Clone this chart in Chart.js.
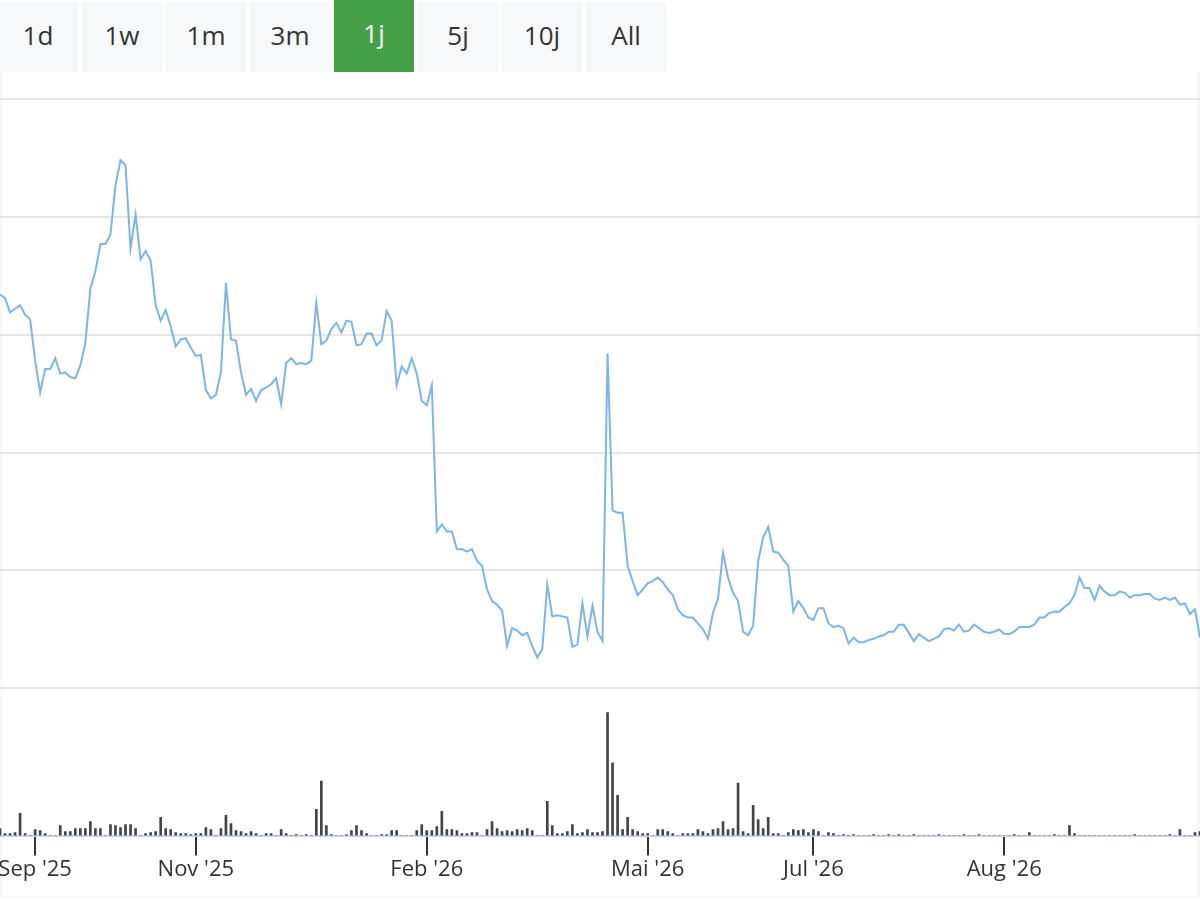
<!DOCTYPE html>
<html>
<head>
<meta charset="utf-8">
<title>Kursverlauf 1j</title>
<script src="https://cdn.jsdelivr.net/npm/chart.js@4"></script>
<style>
  html, body { margin: 0; padding: 0; background: #fff; width: 1200px; height: 900px; overflow: hidden; font-family: 'Open Sans', sans-serif; }
  .ranges { position: absolute; left: -2px; top: 0; height: 72px; display: flex; gap: 4px; align-items: flex-end; }
  .ranges button { width: 80px; height: 70px; border: 0; margin: 0; padding: 0 0 5px 0; background: #f7f8fa; color: #333; font: 26px 'Open Sans', sans-serif; }
  .ranges button.active { height: 72px; padding-bottom: 7px; background: #43a047; color: #fff; }
  .box { position: absolute; left: 0; top: 72px; width: 1195px; height: 824px; border-left: 2px solid #f7f8fa; border-right: 3px solid #f7f8fa; border-bottom: 2px solid #f7f8fa; }
  .chart { position: absolute; left: 0; top: 72px; width: 1200px; height: 828px; }
</style>
</head>
<body>
<div class="ranges">
  <button>1d</button><button>1w</button><button>1m</button><button>3m</button><button class="active">1j</button><button>5j</button><button>10j</button><button>All</button>
</div>
<div class="box"></div>
<div class="chart"><canvas id="priceChart"></canvas></div>
<script>
// Schlusskurse, ein Wert pro Handelstag
var prices = [
  43.4, 43.1, 41.9, 42.2, 42.5, 41.7, 41.3, 37.8, 35.1, 37.1, 37.1, 38.0, 36.7, 36.8, 36.4, 36.3, 37.4, 39.3, 43.9, 45.4,
  47.7, 47.7, 48.5, 52.7, 54.8, 54.4, 47.3, 50.2, 46.4, 47.1, 46.3, 42.5, 41.2, 42.1, 40.7, 39.0, 39.6, 39.7, 38.9, 38.2,
  38.3, 35.3, 34.6, 34.9, 36.8, 44.4, 39.6, 39.5, 36.8, 34.9, 35.4, 34.4, 35.3, 35.5, 35.8, 36.3, 34.1, 37.6, 38.0, 37.5,
  37.6, 37.5, 37.8, 42.7, 39.2, 39.5, 40.5, 41.0, 40.2, 41.2, 41.1, 39.1, 39.2, 40.1, 40.1, 39.1, 39.5, 42.0, 41.2, 35.7,
  37.3, 36.7, 38.0, 36.7, 34.4, 34.0, 35.7, 23.3, 23.9, 23.3, 23.3, 21.8, 21.8, 21.6, 21.8, 20.8, 20.4, 18.4, 17.4, 17.1,
  16.6, 13.6, 15.1, 14.9, 14.5, 14.7, 13.6, 12.6, 13.3, 18.8, 16.1, 16.2, 16.1, 16.0, 13.5, 13.7, 17.2, 14.4, 17.0, 14.8,
  14.0, 38.4, 25.1, 24.9, 24.9, 20.4, 19.1, 17.9, 18.4, 18.9, 19.1, 19.4, 19.0, 18.4, 17.9, 16.7, 16.2, 16.0, 16.0, 15.5,
  15.0, 14.2, 16.4, 17.6, 21.5, 19.4, 18.1, 17.4, 14.8, 14.5, 15.3, 20.8, 22.8, 23.7, 21.6, 21.5, 20.9, 20.4, 16.5, 17.4,
  16.8, 16.0, 15.8, 16.8, 16.8, 15.5, 15.2, 15.3, 15.1, 13.8, 14.3, 13.9, 13.9, 14.1, 14.2, 14.4, 14.5, 14.8, 14.8, 15.4,
  15.4, 14.7, 14.0, 14.6, 14.3, 14.0, 14.2, 14.4, 15.0, 15.1, 14.9, 15.4, 14.8, 14.9, 15.4, 15.1, 14.8, 14.7, 14.8, 15.0,
  14.6, 14.6, 14.8, 15.2, 15.2, 15.2, 15.4, 16.0, 16.0, 16.4, 16.5, 16.5, 16.9, 17.2, 17.9, 19.4, 18.5, 18.5, 17.5, 18.7,
  18.2, 17.9, 17.9, 18.2, 18.1, 17.7, 17.9, 17.9, 18.0, 18.0, 17.6, 17.5, 17.7, 17.5, 17.7, 17.1, 17.2, 16.3, 16.7, 14.3
];

// Umsatz in Tsd. Stueck
var volumes = [
  7, 2, 2, 3, 22, 2, 0, 6, 5, 2, 0, 0, 10, 4, 4, 7, 7, 7, 14, 7,
  7, 0, 11, 10, 8, 11, 11, 7, 0, 2, 3, 4, 18, 7, 6, 3, 2, 2, 1, 2,
  2, 8, 6, 0, 7, 20, 12, 5, 4, 2, 4, 2, 0, 2, 2, 0, 6, 2, 0, 1,
  0, 1, 0, 26, 54, 10, 1, 0, 0, 1, 5, 10, 5, 2, 0, 0, 1, 1, 5, 5,
  0, 0, 0, 5, 11, 5, 5, 9, 24, 6, 6, 5, 2, 2, 3, 3, 0, 6, 14, 7,
  4, 5, 4, 6, 5, 7, 5, 0, 0, 34, 10, 2, 2, 4, 11, 2, 3, 6, 3, 3,
  4, 122, 72, 40, 6, 18, 6, 4, 2, 2, 0, 6, 6, 4, 2, 0, 2, 2, 2, 6,
  4, 2, 6, 7, 14, 6, 7, 52, 4, 2, 30, 16, 7, 18, 2, 2, 0, 3, 6, 5,
  6, 3, 6, 4, 0, 3, 2, 0, 1, 0, 1, 0, 0, 0, 1, 0, 0, 1, 0, 1,
  0, 0, 1, 0, 0, 0, 0, 1, 0, 0, 0, 0, 1, 0, 0, 1, 0, 0, 0, 0,
  0, 0, 1, 0, 0, 3, 0, 0, 0, 0, 1, 0, 0, 10, 2, 0, 0, 0, 0, 0,
  0, 0, 0, 0, 0, 0, 1, 0, 0, 0, 0, 0, 0, 1, 0, 6, 0, 0, 3, 4
];

// Monatsbeschriftung an Handelstag-Index
var tickIndex = [7, 39, 85, 129, 162, 200];
var tickLabels = ["Sep '25", "Nov '25", "Feb '26", "Mai '26", "Jul '26", "Aug '26"];

document.addEventListener('DOMContentLoaded', function () {
  Chart.defaults.font.family = "'Open Sans', sans-serif";
  var ctx = document.getElementById('priceChart').getContext('2d');
  var priceChart = new Chart(ctx, {
    type: 'bar',
    data: {
      datasets: [{
        type: 'line',
        label: 'Kurs',
        data: prices.map(function (p, i) { return { x: i, y: p }; }),
        yAxisID: 'y',
        borderColor: '#7cb5ec',
        borderWidth: 2,
        pointRadius: 0,
        tension: 0,
        fill: false
      }, {
        type: 'bar',
        label: 'Umsatz',
        data: volumes.map(function (v, i) { return { x: i, y: v }; }),
        yAxisID: 'yv',
        backgroundColor: '#434348',
        barThickness: 2
      }]
    },
    options: {
      responsive: true,
      maintainAspectRatio: false,
      animation: false,
      layout: { padding: { top: 27, bottom: 16, left: 0, right: 0 } },
      plugins: {
        legend: { display: false },
        tooltip: { enabled: false }
      },
      scales: {
        x: {
          type: 'linear',
          offset: false,
          min: 0,
          max: prices.length - 1,
          afterBuildTicks: function (scale) {
            scale.ticks = tickIndex.map(function (v) { return { value: v }; });
          },
          afterFit: function (scale) {
            scale.paddingLeft = 0;
            scale.paddingRight = 0;
          },
          ticks: {
            autoSkip: false,
            maxRotation: 0,
            padding: 1,
            color: '#333333',
            font: { size: 22 },
            callback: function (value, index) { return tickLabels[index]; }
          },
          grid: { offset: false, drawOnChartArea: false, tickLength: 20, color: '#333333', lineWidth: 2 },
          border: { color: '#ccd6eb', width: 2 }
        },
        y: {
          type: 'linear',
          position: 'right',
          stack: 'panes',
          stackWeight: 4,
          min: 10,
          max: 60,
          ticks: { display: false, stepSize: 10 },
          grid: { color: '#e6e6e6', lineWidth: 2, drawTicks: false },
          border: { display: false }
        },
        yv: {
          type: 'linear',
          position: 'right',
          stack: 'panes',
          stackWeight: 1,
          min: 0,
          max: 146,
          ticks: { display: false },
          grid: { display: false, drawTicks: false },
          border: { display: false }
        }
      }
    }
  });
});
</script>
</body>
</html>
